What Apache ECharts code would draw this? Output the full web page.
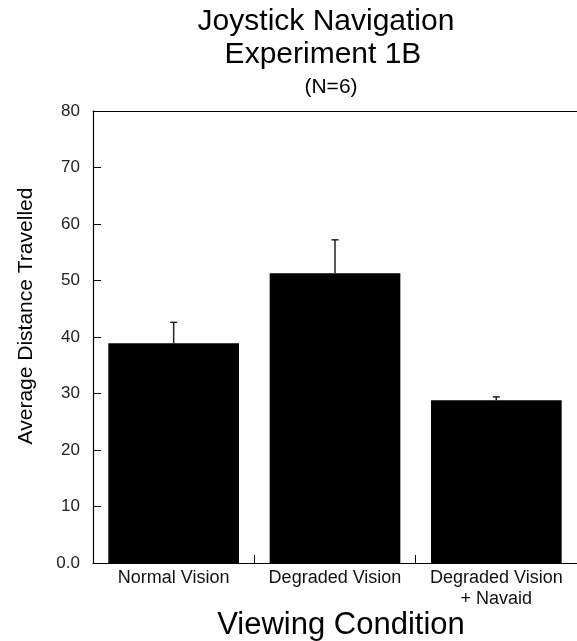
<!DOCTYPE html>
<html>
<head>
<meta charset="utf-8">
<script src="https://cdn.jsdelivr.net/npm/echarts@6/dist/echarts.min.js"></script>
<style>
html,body{margin:0;padding:0;background:#fff;overflow:hidden;}
#chart{width:577px;height:641px;}
</style>
</head>
<body>
<div id="chart"></div>
<script>
const categories = ['Normal Vision', 'Degraded Vision', 'Degraded Vision\n+ Navaid'];
const means = [38.9, 51.3, 28.8];
const errorTops = [42.6, 57.2, 29.4];
const yTicks = [0, 10, 20, 30, 40, 50, 60, 70, 80];
const titleLines = ['Joystick Navigation', 'Experiment 1B'];
const subtitle = '(N=6)';
const xTitle = 'Viewing Condition';
const yTitle = 'Average Distance Travelled';

const FONT = '"Liberation Sans", Arial, Helvetica, sans-serif';
const chart = echarts.init(document.getElementById('chart'), null, {renderer: 'canvas', width: 577, height: 641});

const errData = categories.map((c, i) => [i, means[i], errorTops[i]]);

function txt(text, x, y, size, rot) {
  return {
    type: 'text', x: x, y: y, rotation: rot || 0, silent: true,
    style: {text: text, font: 'normal ' + size + 'px ' + FONT, fill: '#000',
            textAlign: 'center', textVerticalAlign: 'middle'}
  };
}

chart.setOption({
  backgroundColor: '#fff',
  animation: false,
  graphic: [
    txt(titleLines[0], 326, 22, 30),
    txt(titleLines[1], 323, 55, 30),
    txt(subtitle, 331, 87, 21),
    txt(xTitle, 341, 625, 31),
    txt(yTitle, 26, 316, 21, Math.PI / 2)
  ],
  grid: {left: 93, top: 111, width: 486, height: 452, containLabel: false},
  xAxis: [
    {
      type: 'category', data: categories, position: 'bottom',
      axisLine: {show: true, lineStyle: {color: '#000', width: 1.2}},
      axisTick: {show: true, inside: true, length: 8, interval: 0, lineStyle: {color: '#000'}},
      axisLabel: {interval: 0, margin: 5, fontFamily: FONT, fontSize: 18, color: '#111', lineHeight: 21}
    },
    {
      type: 'category', data: categories, position: 'top',
      axisLine: {show: true, lineStyle: {color: '#000', width: 1.2}},
      axisTick: {show: false}, axisLabel: {show: false}
    }
  ],
  yAxis: {
    type: 'value', min: yTicks[0], max: yTicks[yTicks.length - 1], interval: yTicks[1] - yTicks[0],
    axisLine: {show: true, lineStyle: {color: '#000', width: 1.2}},
    axisTick: {show: true, inside: true, length: 8, lineStyle: {color: '#000'}},
    splitLine: {show: false},
    axisLabel: {margin: 13, fontFamily: FONT, fontSize: 17, color: '#222',
      formatter: v => (v === 0 ? '0.0' : String(v))}
  },
  series: [
    {
      type: 'bar', data: means, barCategoryGap: '19%',
      itemStyle: {color: '#000'}, z: 2
    },
    {
      type: 'custom', data: errData, z: 3,
      renderItem: function (params, api) {
        const i = api.value(0);
        const base = api.coord([i, api.value(1)]);
        const top = api.coord([i, api.value(2)]);
        const hw = 3.5;
        return {
          type: 'group',
          children: [
            {type: 'line', shape: {x1: top[0], y1: top[1], x2: base[0], y2: base[1]},
             style: {stroke: '#222', lineWidth: 1.5}},
            {type: 'line', shape: {x1: top[0] - hw, y1: top[1], x2: top[0] + hw, y2: top[1]},
             style: {stroke: '#222', lineWidth: 1.5}}
          ]
        };
      }
    }
  ]
});
</script>
</body>
</html>
